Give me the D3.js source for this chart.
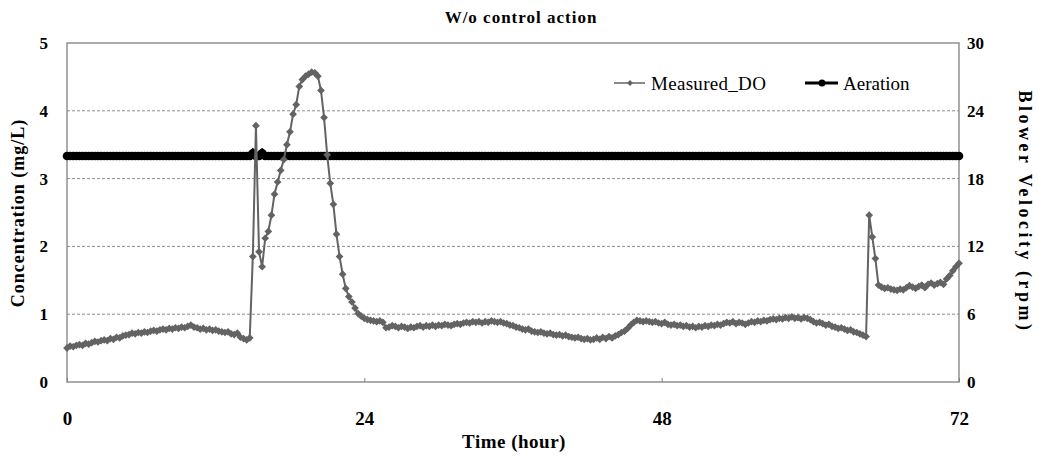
<!DOCTYPE html>
<html>
<head>
<meta charset="utf-8">
<script src="https://cdn.jsdelivr.net/npm/d3@7"></script>
<style>
body { margin: 0; background: #fff; }
</style>
</head>
<body>
<svg width="1038" height="460"></svg>
<script>
// sample step of both series, hours
var step = 0.25;

// Measured DO (mg/L), one row per hour, 15 min apart
var measuredDO = [
    0.50, 0.53, 0.52, 0.54,
    0.55, 0.54, 0.57, 0.56,
    0.58, 0.60, 0.59, 0.61,
    0.62, 0.61, 0.64, 0.63,
    0.66, 0.65, 0.68, 0.69,
    0.70, 0.72, 0.71, 0.73,
    0.72, 0.74, 0.73, 0.75,
    0.76, 0.75, 0.77, 0.78,
    0.77, 0.79, 0.78, 0.80,
    0.79, 0.81, 0.80, 0.82,
    0.84, 0.81, 0.80, 0.78,
    0.79, 0.77, 0.78, 0.76,
    0.77, 0.75, 0.74, 0.73,
    0.74, 0.71, 0.70, 0.72,
    0.66, 0.64, 0.62, 0.65,
    1.85, 3.78, 1.92, 1.70,
    2.12, 2.22, 2.46, 2.77,
    2.95, 3.12, 3.28, 3.50,
    3.69, 3.95, 4.09, 4.36,
    4.46, 4.51, 4.54, 4.57,
    4.56, 4.51, 4.30, 3.90,
    3.35, 2.93, 2.62, 2.18,
    1.85, 1.59, 1.38, 1.26,
    1.18, 1.09, 1.01, 0.97,
    0.94, 0.92, 0.91, 0.90,
    0.89, 0.90, 0.88, 0.80,
    0.81, 0.83, 0.82, 0.80,
    0.82, 0.81, 0.79, 0.81,
    0.80, 0.82, 0.83, 0.81,
    0.83, 0.82, 0.84, 0.82,
    0.84, 0.83, 0.85, 0.84,
    0.83, 0.85, 0.86, 0.85,
    0.87, 0.88, 0.87, 0.89,
    0.88, 0.89, 0.87, 0.89,
    0.88, 0.90, 0.89, 0.88,
    0.89, 0.87, 0.86, 0.84,
    0.83, 0.81, 0.80, 0.78,
    0.77, 0.78, 0.75, 0.74,
    0.73, 0.74, 0.72, 0.71,
    0.72, 0.70, 0.69, 0.70,
    0.68, 0.69, 0.67, 0.66,
    0.65, 0.66, 0.64, 0.63,
    0.64, 0.62, 0.63, 0.65,
    0.63, 0.66, 0.64, 0.67,
    0.65, 0.68, 0.70, 0.73,
    0.75, 0.79, 0.84, 0.88,
    0.91, 0.90, 0.89, 0.90,
    0.89, 0.88, 0.89, 0.87,
    0.86, 0.88, 0.85, 0.84,
    0.85, 0.83, 0.84, 0.82,
    0.83, 0.81, 0.82, 0.80,
    0.82, 0.81, 0.83, 0.82,
    0.84, 0.83, 0.85, 0.84,
    0.86, 0.88, 0.87, 0.89,
    0.86, 0.88, 0.87, 0.85,
    0.87, 0.89, 0.88, 0.90,
    0.89, 0.91, 0.90, 0.92,
    0.93, 0.92, 0.94, 0.93,
    0.95, 0.94, 0.96, 0.94,
    0.95, 0.93, 0.95, 0.94,
    0.92, 0.89, 0.87, 0.88,
    0.86, 0.84, 0.85, 0.82,
    0.81, 0.79, 0.80, 0.78,
    0.76, 0.77, 0.74, 0.73,
    0.71, 0.69, 0.67, 2.46,
    2.14, 1.82, 1.43, 1.40,
    1.38, 1.39, 1.37, 1.36,
    1.35, 1.37, 1.36, 1.39,
    1.42, 1.40, 1.38, 1.41,
    1.43, 1.39, 1.44, 1.46,
    1.43, 1.45, 1.47, 1.44,
    1.52, 1.57, 1.64, 1.70,
    1.75
];

// Aeration (blower rpm), same sample times, 3 hours per row
var aeration = [
    20, 20, 20, 20, 20, 20, 20, 20, 20, 20, 20, 20,
    20, 20, 20, 20, 20, 20, 20, 20, 20, 20, 20, 20,
    20, 20, 20, 20, 20, 20, 20, 20, 20, 20, 20, 20,
    20, 20, 20, 20, 20, 20, 20, 20, 20, 20, 20, 20,
    20, 20, 20, 20, 20, 20, 20, 20, 20, 20, 20, 20,
    20.25, 20, 20, 20.25, 20, 20, 20, 20, 20, 20, 20, 20,
    20, 20, 20, 20, 20, 20, 20, 20, 20, 20, 20, 20,
    20, 20, 20, 20, 20, 20, 20, 20, 20, 20, 20, 20,
    20, 20, 20, 20, 20, 20, 20, 20, 20, 20, 20, 20,
    20, 20, 20, 20, 20, 20, 20, 20, 20, 20, 20, 20,
    20, 20, 20, 20, 20, 20, 20, 20, 20, 20, 20, 20,
    20, 20, 20, 20, 20, 20, 20, 20, 20, 20, 20, 20,
    20, 20, 20, 20, 20, 20, 20, 20, 20, 20, 20, 20,
    20, 20, 20, 20, 20, 20, 20, 20, 20, 20, 20, 20,
    20, 20, 20, 20, 20, 20, 20, 20, 20, 20, 20, 20,
    20, 20, 20, 20, 20, 20, 20, 20, 20, 20, 20, 20,
    20, 20, 20, 20, 20, 20, 20, 20, 20, 20, 20, 20,
    20, 20, 20, 20, 20, 20, 20, 20, 20, 20, 20, 20,
    20, 20, 20, 20, 20, 20, 20, 20, 20, 20, 20, 20,
    20, 20, 20, 20, 20, 20, 20, 20, 20, 20, 20, 20,
    20, 20, 20, 20, 20, 20, 20, 20, 20, 20, 20, 20,
    20, 20, 20, 20, 20, 20, 20, 20, 20, 20, 20, 20,
    20, 20, 20, 20, 20, 20, 20, 20, 20, 20, 20, 20,
    20, 20, 20, 20, 20, 20, 20, 20, 20, 20, 20, 20,
    20
];

var timeTicks = [0, 24, 48, 72];
var doTicks = [0, 1, 2, 3, 4, 5];
var rpmTicks = [0, 6, 12, 18, 24, 30];

var svg = d3.select("svg"),
    plotLeft = 67,
    plotRight = 959,
    plotTop = 43,
    plotBottom = 382,
    serif = "'Liberation Serif', 'Times New Roman', serif";

var x = d3.scaleLinear().domain([0, 72]).range([plotLeft, plotRight]);
var y = d3.scaleLinear().domain([0, 5]).range([plotBottom, plotTop]);
var y2 = d3.scaleLinear().domain([0, 30]).range([plotBottom, plotTop]);

// dashed gridlines
svg.append("g")
    .selectAll("line")
    .data(doTicks.slice(1, 5))
    .enter().append("line")
    .attr("x1", plotLeft)
    .attr("x2", plotRight)
    .attr("y1", function(d) { return y(d); })
    .attr("y2", function(d) { return y(d); })
    .attr("stroke", "#8c8c8c")
    .attr("stroke-width", 1)
    .attr("stroke-dasharray", "3,2");

// plot frame
svg.append("rect")
    .attr("x", plotLeft)
    .attr("y", plotTop)
    .attr("width", plotRight - plotLeft)
    .attr("height", plotBottom - plotTop)
    .attr("fill", "none")
    .attr("stroke", "#808080")
    .attr("stroke-width", 1.3);

// axes
var xAxis = svg.append("g")
    .attr("transform", "translate(0," + plotBottom + ")")
    .call(d3.axisBottom(x).tickValues(timeTicks).tickSize(-4).tickPadding(30));
var yAxis = svg.append("g")
    .attr("transform", "translate(" + plotLeft + ",0)")
    .call(d3.axisLeft(y).tickValues(doTicks).tickFormat(d3.format("d")).tickSize(0).tickPadding(19));
var y2Axis = svg.append("g")
    .attr("transform", "translate(" + plotRight + ",0)")
    .call(d3.axisRight(y2).tickValues(rpmTicks).tickSize(0).tickPadding(8));

[xAxis, yAxis, y2Axis].forEach(function(a) {
    a.select(".domain").remove();
    a.selectAll("line").attr("stroke", "#808080");
    a.selectAll("text")
        .attr("font-family", serif)
        .attr("font-weight", "bold")
        .attr("font-size", 17)
        .attr("fill", "#000");
});
xAxis.selectAll("text").attr("font-size", 19);

// aeration: thick black line with round markers
var aerPoints = aeration.map(function(v, i) { return [i * step, v]; });
svg.append("path")
    .datum(aerPoints)
    .attr("fill", "none")
    .attr("stroke", "#000")
    .attr("stroke-width", 8)
    .attr("d", d3.line()
        .x(function(d) { return x(d[0]); })
        .y(function(d) { return y2(d[1]); }));
svg.append("g")
    .selectAll("circle")
    .data(aerPoints)
    .enter().append("circle")
    .attr("cx", function(d) { return x(d[0]); })
    .attr("cy", function(d) { return y2(d[1]); })
    .attr("r", 4.3)
    .attr("fill", "#000");

// measured DO: gray line with diamond markers
var doPoints = measuredDO.map(function(v, i) { return [i * step, v]; });
var diamond = d3.symbol().type(d3.symbolDiamond2).size(38);
svg.append("path")
    .datum(doPoints)
    .attr("fill", "none")
    .attr("stroke", "#636363")
    .attr("stroke-width", 2)
    .attr("d", d3.line()
        .x(function(d) { return x(d[0]); })
        .y(function(d) { return y(d[1]); }));
svg.append("g")
    .selectAll("path")
    .data(doPoints)
    .enter().append("path")
    .attr("d", diamond)
    .attr("transform", function(d) {
        return "translate(" + x(d[0]) + "," + y(d[1]) + ")";
    })
    .attr("fill", "#636363");

// legend
var legend = svg.append("g").attr("font-family", serif).attr("font-size", 19);
legend.append("line")
    .attr("x1", 614).attr("x2", 645).attr("y1", 83).attr("y2", 83)
    .attr("stroke", "#636363").attr("stroke-width", 1.5);
legend.append("path")
    .attr("d", d3.symbol().type(d3.symbolDiamond2).size(22))
    .attr("transform", "translate(630,83)")
    .attr("fill", "#636363");
legend.append("text")
    .attr("x", 651).attr("y", 83).attr("dy", "0.35em")
    .attr("letter-spacing", 0.3)
    .text("Measured_DO");
legend.append("line")
    .attr("x1", 805).attr("x2", 838).attr("y1", 83).attr("y2", 83)
    .attr("stroke", "#000").attr("stroke-width", 3);
legend.append("circle")
    .attr("cx", 822).attr("cy", 83).attr("r", 3.5)
    .attr("fill", "#000");
legend.append("text")
    .attr("x", 843).attr("y", 83).attr("dy", "0.35em")
    .text("Aeration");

// titles
svg.append("text")
    .attr("x", 521).attr("y", 23)
    .attr("text-anchor", "middle")
    .attr("font-family", serif)
    .attr("font-weight", "bold")
    .attr("font-size", 17)
    .attr("letter-spacing", 1)
    .text("W/o control action");

svg.append("text")
    .attr("x", 514).attr("y", 448)
    .attr("text-anchor", "middle")
    .attr("font-family", serif)
    .attr("font-weight", "bold")
    .attr("font-size", 19)
    .attr("letter-spacing", 0.5)
    .text("Time (hour)");

svg.append("text")
    .attr("transform", "translate(24,213) rotate(-90)")
    .attr("text-anchor", "middle")
    .attr("font-family", serif)
    .attr("font-weight", "bold")
    .attr("font-size", 18)
    .attr("letter-spacing", 1)
    .text("Concentration (mg/L)");

svg.append("text")
    .attr("transform", "translate(1019,212) rotate(90)")
    .attr("text-anchor", "middle")
    .attr("font-family", serif)
    .attr("font-weight", "bold")
    .attr("font-size", 18)
    .attr("letter-spacing", 3.5)
    .text("Blower Velocity (rpm)");
</script>
</body>
</html>
